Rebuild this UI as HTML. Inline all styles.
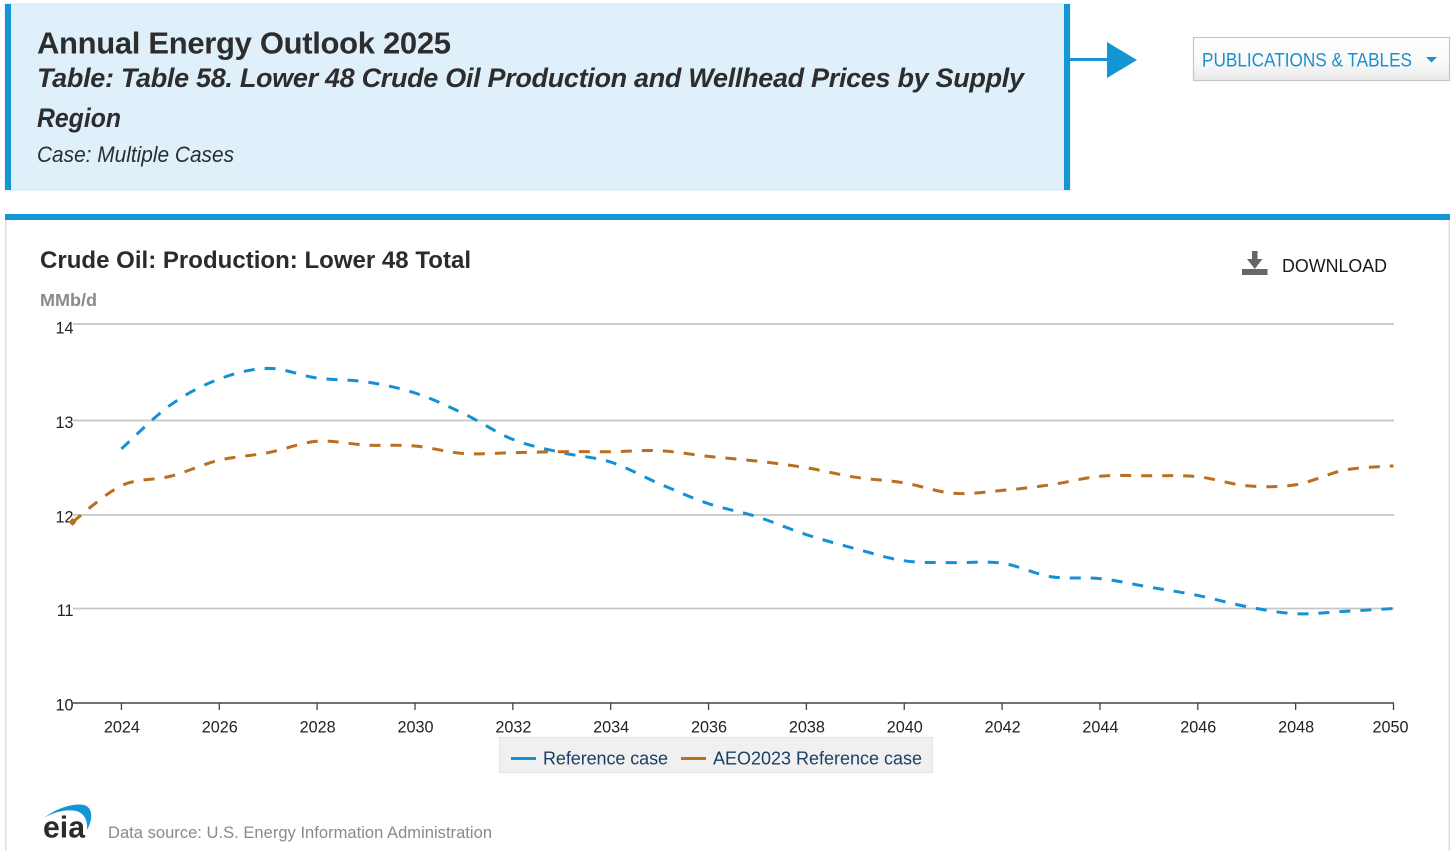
<!DOCTYPE html>
<html lang="en">
<head>
<meta charset="utf-8">
<title>Annual Energy Outlook 2025</title>
<style>
html,body{margin:0;padding:0;background:#fff;width:1456px;height:851px;overflow:hidden}
svg{display:block}
text{font-family:"Liberation Sans",sans-serif}
</style>
</head>
<body>
<svg id="page" xmlns="http://www.w3.org/2000/svg" width="1456" height="851" viewBox="0 0 1456 851">
  <defs>
    <linearGradient id="btn" x1="0" y1="0" x2="0" y2="1">
      <stop offset="0" stop-color="#ffffff"/>
      <stop offset="0.55" stop-color="#fafafa"/>
      <stop offset="1" stop-color="#e9e9e9"/>
    </linearGradient>
  </defs>

  <g>
    <rect x="5" y="4" width="1065" height="186" fill="#dff0fb" stroke="#d3e6f2" stroke-width="1"/>
    <rect x="5" y="4" width="6" height="186" fill="#1596d4"/>
    <rect x="1064" y="4" width="6" height="186" fill="#1596d4"/>
    <text x="37" y="53.5" font-size="31" font-weight="700" fill="#2d2d2d" textLength="414" lengthAdjust="spacing">Annual Energy Outlook 2025</text>
    <text x="37" y="87" font-size="27" font-weight="700" font-style="italic" fill="#2d2d2d" textLength="987" lengthAdjust="spacing">Table: Table 58. Lower 48 Crude Oil Production and Wellhead Prices by Supply</text>
    <text x="37" y="127" font-size="27" font-weight="700" font-style="italic" fill="#2d2d2d" textLength="84" lengthAdjust="spacingAndGlyphs">Region</text>
    <text x="37" y="162" font-size="22.5" font-style="italic" fill="#2d2d2d" textLength="197" lengthAdjust="spacingAndGlyphs">Case: Multiple Cases</text>
  </g>

  <g>
    <rect x="1070" y="58" width="38" height="3" fill="#1596d4"/>
    <polygon points="1107,42 1137,60 1107,78" fill="#1596d4"/>
  </g>

  <g>
    <rect x="1193.5" y="37.5" width="256" height="43" fill="url(#btn)" stroke="#c6c6c6" stroke-width="1.2"/>
    <text x="1202" y="66.5" font-size="19.5" fill="#1b8fd0" textLength="210" lengthAdjust="spacingAndGlyphs">PUBLICATIONS &amp; TABLES</text>
    <polygon points="1426,57 1437,57 1431.5,62.5" fill="#1b8fd0"/>
  </g>

  <g>
    <rect x="5" y="220" width="1.5" height="631" fill="#dedede"/>
    <rect x="1448.5" y="220" width="1.5" height="631" fill="#dedede"/>
    <rect x="5" y="214" width="1445" height="6" fill="#1596d4"/>
    <text x="40" y="268" font-size="24" font-weight="700" fill="#2b2b2b" textLength="431" lengthAdjust="spacing">Crude Oil: Production: Lower 48 Total</text>
    <text x="40" y="306" font-size="17.5" font-weight="700" fill="#8a8a8a" textLength="57" lengthAdjust="spacingAndGlyphs">MMb/d</text>
  </g>

  <g>
    <g fill="#666666">
      <rect x="1252" y="251" width="5.5" height="11"/>
      <polygon points="1247,259 1262.5,259 1254.8,269"/>
      <rect x="1242" y="269" width="25.5" height="6"/>
    </g>
    <text x="1282" y="272" font-size="18.5" fill="#1a1a1a" textLength="105" lengthAdjust="spacingAndGlyphs">DOWNLOAD</text>
  </g>

  <g id="chart"></g>

  <g>
    <rect x="499.5" y="737.5" width="433" height="35" fill="#f0f0f0" stroke="#e5e5e5" stroke-width="1.2"/>
    <g>
      <rect x="511" y="757" width="25" height="3" fill="#1490d4"/>
      <text x="543" y="764.5" font-size="18" fill="#1c3f66" textLength="125" lengthAdjust="spacing">Reference case</text>
    </g>
    <g>
      <rect x="681" y="757" width="25" height="3" fill="#b96f1f"/>
      <text x="713" y="764.5" font-size="18" fill="#1c3f66" textLength="209" lengthAdjust="spacing">AEO2023 Reference case</text>
    </g>
  </g>

  <g>
    <g>
      <path d="M44,818 C58,807 75,803 84,805 C92,807 94,818 87,830 C88,820 84,813 76,811 C66,809 54,812 44,818 Z" fill="#1596d4"/>
      <text x="43" y="837.5" font-size="31" font-weight="700" fill="#2b2b2b" textLength="42" lengthAdjust="spacingAndGlyphs">eia</text>
    </g>
    <text x="108" y="838" font-size="16.5" fill="#8a8a8a" textLength="384" lengthAdjust="spacing">Data source: U.S. Energy Information Administration</text>
  </g>
</svg>

<script>
const years = [2023,2024,2025,2026,2027,2028,2029,2030,2031,2032,2033,2034,2035,2036,2037,2038,2039,2040,2041,2042,2043,2044,2045,2046,2047,2048,2049,2050];
const referenceCase = [null,12.70,13.16,13.43,13.54,13.44,13.40,13.285,13.07,12.80,12.66,12.56,12.33,12.12,11.98,11.79,11.64,11.51,11.49,11.485,11.34,11.32,11.23,11.14,11.02,10.945,10.97,11.00];
const aeo2023Reference = [11.925,12.31,12.41,12.58,12.66,12.78,12.74,12.73,12.65,12.66,12.67,12.67,12.68,12.62,12.57,12.50,12.40,12.34,12.23,12.26,12.32,12.41,12.415,12.405,12.31,12.32,12.475,12.52];
const yTicks = [10,11,12,13,14];
const xTicks = [2024,2026,2028,2030,2032,2034,2036,2038,2040,2042,2044,2046,2048,2050];

const NS = 'http://www.w3.org/2000/svg';
const chart = document.getElementById('chart');

function xScale(year){
  return 72.5 + (year - 2023) * (1393.5 - 72.5) / 27;
}
function yScale(v){
  const pixelStops = [703, 608.5, 515, 420.5, 324];
  const lo = Math.max(0, Math.min(3, Math.floor(v - 10)));
  return pixelStops[lo] + (v - 10 - lo) * (pixelStops[lo + 1] - pixelStops[lo]);
}
function make(tag, attrs, parent){
  const el = document.createElementNS(NS, tag);
  for (const k in attrs) el.setAttribute(k, attrs[k]);
  parent.appendChild(el);
  return el;
}
function smoothPath(pts){
  const n = pts.length;
  let d = 'M' + pts[0][0].toFixed(2) + ',' + pts[0][1].toFixed(2);
  for (let i = 0; i < n - 1; i++){
    const p0 = pts[Math.max(0, i - 1)];
    const p1 = pts[i];
    const p2 = pts[i + 1];
    const p3 = pts[Math.min(n - 1, i + 2)];
    d += ' C' + (p1[0] + (p2[0] - p0[0]) / 6).toFixed(2) + ',' + (p1[1] + (p2[1] - p0[1]) / 6).toFixed(2) +
         ' ' + (p2[0] - (p3[0] - p1[0]) / 6).toFixed(2) + ',' + (p2[1] - (p3[1] - p1[1]) / 6).toFixed(2) +
         ' ' + p2[0].toFixed(2) + ',' + p2[1].toFixed(2);
  }
  return d;
}
function seriesPoints(values){
  const pts = [];
  values.forEach(function(v, i){
    if (v !== null) pts.push([xScale(years[i]), yScale(v)]);
  });
  return pts;
}

/* gridlines and y labels */
yTicks.forEach(function(v){
  const y = yScale(v);
  if (v !== 10){
    const grid = make('line', {x1: 73, x2: 1394, y1: y, y2: y, stroke: '#c6c6c6', 'stroke-width': 1.7}, chart);
    
    
  }
  const label = make('text', {x: 73.5, y: y + (v === 14 ? 9.5 : 7.5), 'text-anchor': 'end', 'font-size': 16.2, fill: '#222'}, chart);
  
  
  label.textContent = String(v);
});

/* x axis */
const axis = make('line', {x1: 73, x2: 1394, y1: yScale(10), y2: yScale(10), stroke: '#444', 'stroke-width': 1.6}, chart);



xTicks.forEach(function(yr){
  const x = xScale(yr);
  const tick = make('line', {x1: x, x2: x, y1: yScale(10), y2: yScale(10) + 7, stroke: '#444', 'stroke-width': 1.3}, chart);
  
  
  const label = make('text', {x: yr === 2050 ? x - 3 : x + 0.5, y: 732.5, 'text-anchor': 'middle', 'font-size': 16.2, fill: '#222'}, chart);
  
  
  label.textContent = String(yr);
});

/* series */
const blueLine = make('path', {d: smoothPath(seriesPoints(referenceCase)), fill: 'none', stroke: '#1490d4', 'stroke-width': 3, 'stroke-dasharray': '11 10'}, chart);



const orangePts = seriesPoints(aeo2023Reference);
const orangeLine = make('path', {d: smoothPath(orangePts), fill: 'none', stroke: '#b96f1f', 'stroke-width': 3, 'stroke-dasharray': '11 10'}, chart);



const startX = orangePts[0][0];
const startY = orangePts[0][1];
const marker = make('polygon', {
  points: (startX - 4) + ',' + startY + ' ' + startX + ',' + (startY - 4) + ' ' + (startX + 4) + ',' + startY + ' ' + startX + ',' + (startY + 4),
  fill: '#b96f1f'
}, chart);


</script>
</body>
</html>
